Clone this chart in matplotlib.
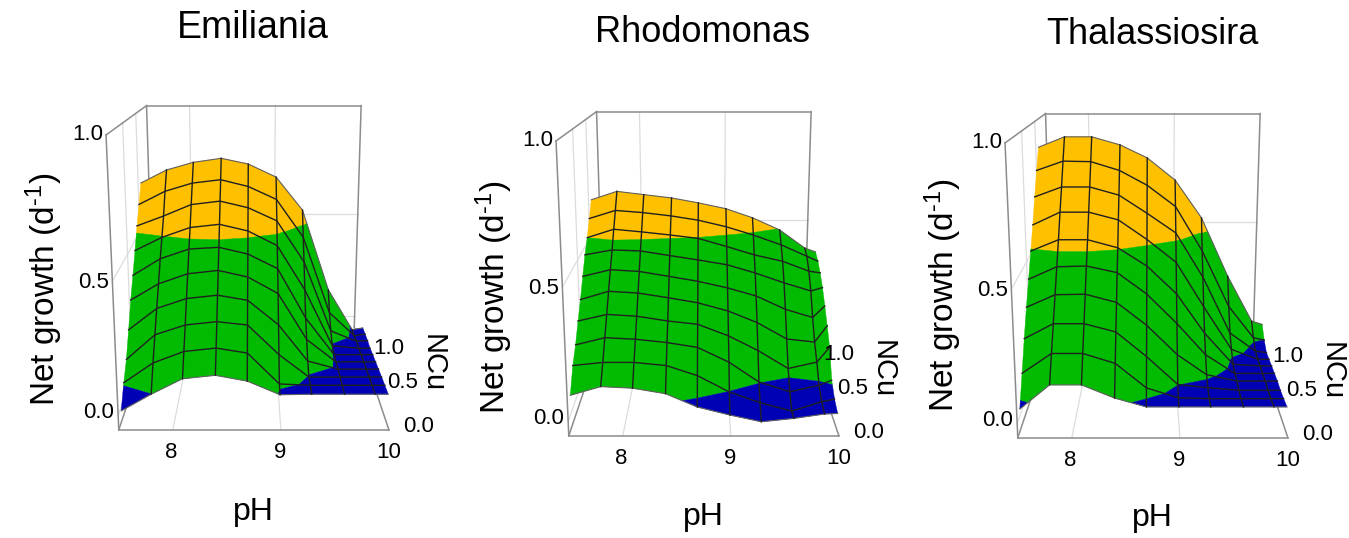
import numpy as np
import matplotlib
matplotlib.use('Agg')
import matplotlib.pyplot as plt
from mpl_toolkits.mplot3d import Axes3D
from mpl_toolkits.mplot3d.art3d import Poly3DCollection

plt.rcParams['font.family'] = ['Liberation Sans', 'DejaVu Sans']
plt.rcParams['mathtext.fontset'] = 'custom'
plt.rcParams['mathtext.rm'] = 'Liberation Sans'
plt.rcParams['mathtext.default'] = 'regular'

W, H = 1349, 538

titles = ['Emiliania', 'Rhodomonas', 'Thalassiosira']
ph = [7.53, 7.81, 8.10, 8.40, 8.69, 8.99, 9.28, 9.58, 9.86, 9.98]
ncu = [0.0, 0.111, 0.222, 0.333, 0.444, 0.556, 0.667, 0.778, 0.889, 1.0]

# net growth, one row per NCu value (front to back)
emiliania = [
    [0.018, 0.082, 0.141, 0.154, 0.132, 0.080, 0.082, 0.082, 0.082, 0.082],
    [0.091, 0.168, 0.212, 0.225, 0.206, 0.086, 0.081, 0.081, 0.081, 0.081],
    [0.149, 0.246, 0.284, 0.297, 0.284, 0.168, 0.079, 0.079, 0.079, 0.079],
    [0.236, 0.321, 0.360, 0.373, 0.353, 0.256, 0.110, 0.077, 0.077, 0.077],
    [0.328, 0.393, 0.433, 0.446, 0.420, 0.354, 0.167, 0.074, 0.074, 0.074],
    [0.403, 0.470, 0.509, 0.516, 0.489, 0.430, 0.227, 0.072, 0.072, 0.072],
    [0.482, 0.536, 0.576, 0.589, 0.562, 0.502, 0.318, 0.079, 0.068, 0.068],
    [0.564, 0.605, 0.652, 0.666, 0.639, 0.585, 0.413, 0.114, 0.068, 0.071],
    [0.636, 0.691, 0.725, 0.739, 0.711, 0.657, 0.497, 0.167, 0.063, 0.070],
    [0.711, 0.766, 0.798, 0.815, 0.791, 0.736, 0.595, 0.244, 0.061, 0.069],
]
rhodomonas = [
    [0.101, 0.134, 0.128, 0.107, 0.056, 0.025, -0.001, 0.012, 0.029, 0.031],
    [0.181, 0.193, 0.193, 0.181, 0.142, 0.078, 0.036, 0.003, 0.040, 0.050],
    [0.230, 0.258, 0.252, 0.239, 0.220, 0.162, 0.083, 0.044, 0.070, 0.090],
    [0.295, 0.321, 0.314, 0.295, 0.282, 0.236, 0.177, 0.104, 0.130, 0.190],
    [0.354, 0.387, 0.380, 0.361, 0.341, 0.308, 0.261, 0.194, 0.181, 0.248],
    [0.423, 0.450, 0.443, 0.423, 0.403, 0.376, 0.343, 0.288, 0.254, 0.302],
    [0.489, 0.509, 0.505, 0.486, 0.468, 0.448, 0.414, 0.373, 0.339, 0.353],
    [0.540, 0.575, 0.564, 0.551, 0.537, 0.503, 0.468, 0.441, 0.399, 0.392],
    [0.602, 0.636, 0.627, 0.613, 0.595, 0.567, 0.532, 0.490, 0.441, 0.420],
    [0.665, 0.701, 0.687, 0.673, 0.652, 0.627, 0.588, 0.535, 0.456, 0.439],
]
thalassiosira = [
    [0.056, 0.148, 0.148, 0.098, 0.064, 0.064, 0.064, 0.064, 0.064, 0.064],
    [0.159, 0.235, 0.235, 0.197, 0.102, 0.063, 0.060, 0.060, 0.060, 0.060],
    [0.262, 0.320, 0.320, 0.288, 0.192, 0.081, 0.068, 0.058, 0.058, 0.058],
    [0.357, 0.406, 0.408, 0.376, 0.286, 0.168, 0.087, 0.061, 0.061, 0.061],
    [0.443, 0.492, 0.495, 0.469, 0.384, 0.265, 0.137, 0.059, 0.059, 0.059],
    [0.533, 0.578, 0.578, 0.546, 0.473, 0.360, 0.197, 0.065, 0.058, 0.058],
    [0.619, 0.670, 0.670, 0.639, 0.560, 0.466, 0.281, 0.098, 0.055, 0.055],
    [0.716, 0.756, 0.756, 0.723, 0.649, 0.568, 0.382, 0.140, 0.060, 0.053],
    [0.810, 0.848, 0.846, 0.810, 0.749, 0.661, 0.473, 0.230, 0.090, 0.079],
    [0.894, 0.937, 0.937, 0.904, 0.850, 0.757, 0.596, 0.340, 0.137, 0.122],
]
surfaces = [emiliania, rhodomonas, thalassiosira]

x_ticks = [8, 9, 10]
y_ticks = ['0.0', '0.5', '1.0']
z_ticks = ['0.0', '0.5', '1.0']

# colour bands, the lower limit of green differs a little per panel
green_floor = [0.083, 0.08, 0.08]
orange_floor = 0.54
band_colors = ['#0000B4', '#00BB00', '#FFC000']

XLIM = (7.5, 10.0)
YLIM = (0.0, 1.5)
ZLIM = (-0.056, 1.0)

# panel offsets in pixels against the first panel
offsets = [(0, 0), (450, 6), (899, 8)]
growth_y = [289, 297, 295]
title_y = [28, 33, 34]
title_size = [27, 26, 26]
ph_y = [512, 517, 518]


def clip_poly(points, level, keep_above):
    """
    Cut a polygon at a z level and keep one side of it.
    """
    result = []
    n = len(points)
    for i in range(n):
        p, q = points[i], points[(i + 1) % n]
        p_in = p[2] >= level if keep_above else p[2] <= level
        q_in = q[2] >= level if keep_above else q[2] <= level
        if p_in:
            result.append(p)
        if p_in != q_in:
            t = (level - p[2]) / (q[2] - p[2])
            result.append(tuple(p[k] + t * (q[k] - p[k]) for k in range(3)))
    return result


def band_polys(x, y, z, limits):
    """
    Split every grid cell into pieces, one for each colour band.
    """
    polys, colors = [], []
    # back to front so nearer cells are painted last
    for j in range(len(y) - 2, -1, -1):
        for i in range(len(x) - 1):
            cell = [(x[i], y[j], z[j][i]), (x[i + 1], y[j], z[j][i + 1]),
                    (x[i + 1], y[j + 1], z[j + 1][i + 1]), (x[i], y[j + 1], z[j + 1][i])]
            for b, color in enumerate(band_colors):
                piece = clip_poly(cell, limits[b], True)
                if piece:
                    piece = clip_poly(piece, limits[b + 1], False)
                if len(piece) >= 3:
                    polys.append(piece)
                    colors.append(color)
    return polys, colors


def draw_box(ax):
    x0, x1 = XLIM
    y0, y1 = YLIM
    z0, z1 = ZLIM
    light = dict(color='#dcdcdc', lw=0.9, zorder=1)
    for v in x_ticks[:2]:
        ax.plot([v, v], [y0, y1], [z0, z0], **light)
        ax.plot([v, v], [y1, y1], [z0, z1], **light)
    for v in [0.5, 1.0]:
        ax.plot([x0, x0], [v, v], [z0, z1], **light)
    for v in [0.0, 0.5]:
        ax.plot([x0, x0], [y0, y1], [v, v], **light)
        ax.plot([x0, x1], [y1, y1], [v, v], **light)
    dark = dict(color='#8c8c8c', lw=1.1, zorder=2)
    ax.plot([x0, x1], [y0, y0], [z0, z0], **dark)
    ax.plot([x0, x0], [y0, y1], [z0, z0], **dark)
    ax.plot([x1, x1], [y0, y1], [z0, z0], **dark)
    ax.plot([x0, x0], [y0, y0], [z0, z1], **dark)
    ax.plot([x0, x0], [y0, y1], [z1, z1], **dark)
    ax.plot([x0, x1], [y1, y1], [z1, z1], **dark)
    ax.plot([x0, x0], [y1, y1], [z0, z1], **dark)
    ax.plot([x1, x1], [y1, y1], [z0, z1], **dark)


def draw_surface(ax, z, limits):
    polys, colors = band_polys(ph, ncu, z, limits)
    coll = Poly3DCollection(polys, facecolors=colors, edgecolors=colors, linewidths=0.3, zorder=3)
    coll.set_zsort('average')
    ax.add_collection3d(coll)
    z = np.array(z)
    wire = dict(color='#202020', lw=1.0, zorder=4)
    rim = dict(color='#606060', lw=0.8, zorder=4)
    for j in range(1, len(ncu) - 1):
        ax.plot(ph, [ncu[j]] * len(ph), z[j, :], **wire)
    ax.plot(ph, [ncu[-1]] * len(ph), z[-1, :], **rim)
    ax.plot(ph, [ncu[0]] * len(ph), z[0, :], **rim)
    # no dark line on the two side edges
    for i in range(1, len(ph) - 1):
        ax.plot([ph[i]] * len(ncu), ncu, z[:, i], **wire)


def put_text(fig, px, py, s, **kw):
    """
    Text at a pixel position counted from the top left corner.
    """
    kw.setdefault('ha', 'center')
    kw.setdefault('va', 'center')
    fig.text(px / W, 1 - py / H, s, **kw)


def plot_panel(fig, k):
    dx, dy = offsets[k]
    ax = fig.add_axes([(32 + dx) / W, (67 - dy) / H, 432 / W, 432 / H], projection='3d',
                      computed_zorder=False)
    ax.patch.set_alpha(0)
    ax.set_proj_type('persp', focal_length=0.3665)
    ax.view_init(elev=14.5, azim=-90)
    ax.set_box_aspect((0.778, 0.878, 0.848))
    ax.set_xlim(*XLIM)
    ax.set_ylim(*YLIM)
    ax.set_zlim(*ZLIM)
    ax.set_axis_off()
    draw_box(ax)
    draw_surface(ax, surfaces[k], [-1.0, green_floor[k], orange_floor, 2.0])

    put_text(fig, 253 + dx, title_y[k], titles[k], fontsize=title_size[k])
    put_text(fig, 253 + dx, ph_y[k], 'pH', fontsize=23)
    put_text(fig, 44 + dx, growth_y[k], r'Net growth (d$^{\text{-}1}$)', fontsize=24, rotation=90)
    put_text(fig, 433 + dx, 363 + dy, 'NCu', fontsize=21, rotation=-90)
    for v, px in zip(x_ticks, [171, 280, 389]):
        put_text(fig, px + dx, 452 + dy, str(v), fontsize=16)
    for s, px, py in zip(z_ticks, [99, 94, 88], [412, 282, 135]):
        put_text(fig, px + dx, py + dy, s, fontsize=16)
    for s, px, py in zip(y_ticks, [419, 403, 389], [427, 383, 348]):
        put_text(fig, px + dx, py + dy, s, fontsize=16)


fig = plt.figure(figsize=(W / 100, H / 100), dpi=100)
for k in range(3):
    plot_panel(fig, k)
fig.savefig('out.png', dpi=100)
